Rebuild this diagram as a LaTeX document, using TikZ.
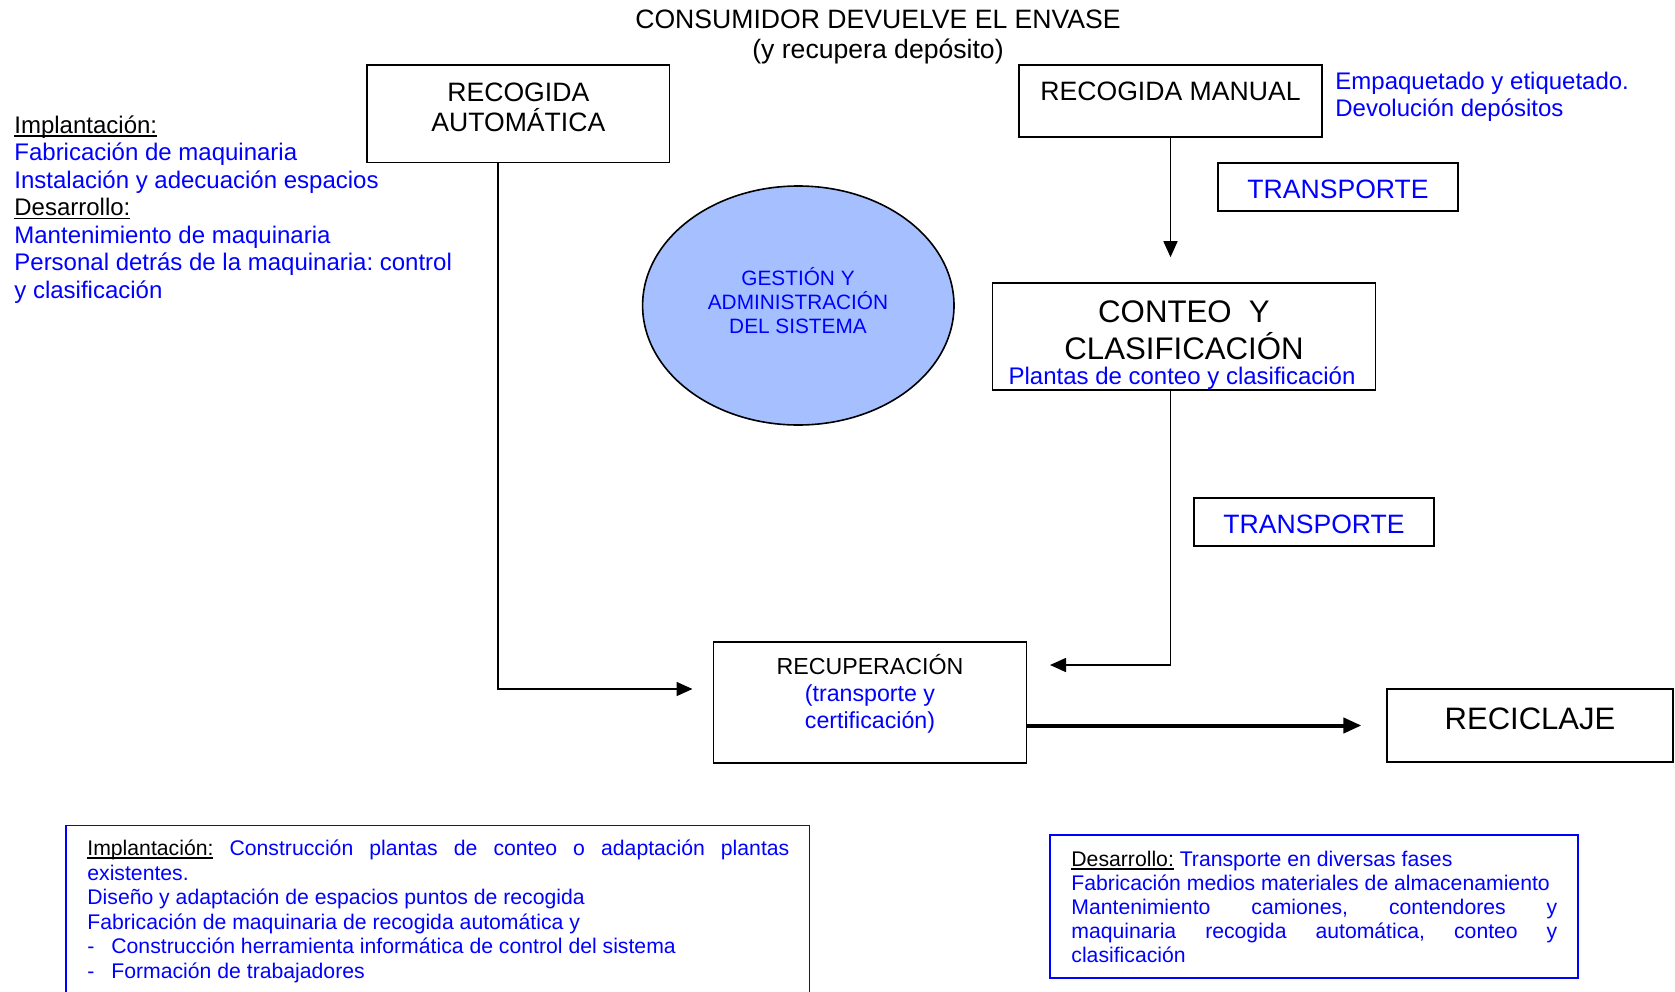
\documentclass[tikz,border=0pt]{standalone}
\usepackage{fontspec}
\setmainfont{Liberation Sans}
\usetikzlibrary{arrows.meta,shapes.geometric}
\definecolor{tblue}{RGB}{0,0,255}
\definecolor{ellfill}{RGB}{166,191,255}
\setlength{\parindent}{0pt}
\frenchspacing
\newcommand\fstrut[1]{\rule{0pt}{#1}}
\newcommand\myul[1]{\setbox0\hbox{#1}\rlap{\rule[-1.6pt]{\wd0}{0.6pt}}\box0}
\begin{document}
\begin{tikzpicture}[x=0.5pt,y=-0.5pt,
  box/.style={draw, line width=0.8pt, inner sep=0pt},
  bbox/.style={draw=tblue, line width=0.7pt, inner sep=0pt},
  conn/.style={line width=0.8pt, -{Triangle[length=8pt,width=7pt]}},
  thickconn/.style={line width=2pt, -{Triangle[length=9pt,width=7.5pt]}},
  txt/.style={inner sep=0pt, align=center},
  f13/.style={font=\fontsize{13.3}{15}\selectfont},
  f12/.style={font=\fontsize{12}{13.75}\selectfont},
]
\useasboundingbox (0,0) rectangle (1675,991);

% title
\node[txt, f13, anchor=north] (title) at (878,4.5)
  {\fstrut{12pt}CONSUMIDOR DEVUELVE EL ENVASE\\(y recupera depósito)};

% boxes
\node[box, minimum width=151.3pt, minimum height=48.65pt] (ra) at (518.3,113.7) {};
\node[txt, f13, anchor=north] (rat) at (518.3,76.7) {\fstrut{12pt}RECOGIDA\\AUTOMÁTICA};

\node[box, minimum width=151.5pt, minimum height=36pt] (rm) at (1170.5,101) {};
\node[txt, f13, anchor=base] (rmt) at (1170.5,100.7) {RECOGIDA MANUAL};

\node[txt, anchor=north west, align=left, text=tblue, font=\fontsize{12}{13.5}\selectfont] (emp) at (1335,65)
  {\fstrut{12pt}Empaquetado y etiquetado.\\Devolución depósitos};

\node[box, minimum width=120pt, minimum height=24pt] (t1) at (1338,187) {};
\node[txt, f13, anchor=base, text=tblue] (t1t) at (1338,198) {TRANSPORTE};

\node[box, minimum width=191.5pt, minimum height=53.5pt] (cc) at (1184,336.5) {};
\node[txt, anchor=base, font=\fontsize{15.6}{18}\selectfont] (cct1) at (1184,322) {CONTEO\ \ Y};
\node[txt, anchor=base, font=\fontsize{15.6}{18}\selectfont] (cct2) at (1184,359) {CLASIFICACIÓN};
\node[txt, f12, anchor=base, text=tblue] (cct3) at (1182,384) {Plantas de conteo y clasificación};

\node[box, minimum width=120pt, minimum height=24pt] (t2) at (1314,522) {};
\node[txt, f13, anchor=base, text=tblue] (t2t) at (1314,533) {TRANSPORTE};

\node[box, minimum width=156.5pt, minimum height=60.6pt] (rec) at (870,702.3) {};
\node[txt, anchor=north, font=\fontsize{11.6}{13.6}\selectfont] (rect) at (870,650)
  {\fstrut{12pt}RECUPERACIÓN\\\textcolor{tblue}{(transporte y}\\\textcolor{tblue}{certificación)}};

\node[box, minimum width=143.2pt, minimum height=36.5pt] (rc) at (1530,725.5) {};
\node[txt, anchor=base, font=\fontsize{15.5}{18}\selectfont] (rct) at (1530,729) {RECICLAJE};

% ellipse
\node[draw, line width=0.8pt, fill=ellfill, ellipse, inner sep=0pt,
      minimum width=155.7pt, minimum height=119.5pt] (ell) at (798.3,305.5) {};
\node[txt, anchor=north, text=tblue, font=\fontsize{10.4}{12}\selectfont] (ellt) at (798,264)
  {\fstrut{10.5pt}GESTIÓN Y\\ADMINISTRACIÓN\\DEL SISTEMA};

% left text block
\node[txt, f12, anchor=north west, align=left, text=tblue] (left) at (14,109)
  {\fstrut{12pt}\textcolor{black}{\myul{Implantación:}}\\
   Fabricación de maquinaria\\
   Instalación y adecuación espacios\\
   \textcolor{black}{\myul{Desarrollo:}}\\
   Mantenimiento de maquinaria\\
   Personal detrás de la maquinaria: control\\
   y clasificación};

% connectors
\coordinate (recL) at (692.5,689);
\coordinate (recR) at (1050,665);
\draw[conn] ([xshift=-10.05pt]ra.south) |- (recL);
\draw[conn, shorten >=12.5pt] (rm.south) -- (rm.south |- cc.north);
\draw[conn] (rm.south |- cc.south) |- (recR);
\draw[thickconn, shorten >=12.3pt] (rec.east |- rc.west) -- (rc.west);

% bottom left box (cut by the page edge)
\coordinate (blA) at (66,1000);
\coordinate (blB) at (66,825.7);
\coordinate (blC) at (809.7,825.7);
\coordinate (blD) at (809.7,1000);
\draw[draw=tblue, line width=0.7pt] (blA) -- (blB) -- (blC) -- (blD);
\node[inner sep=0pt, anchor=north west, text width=351pt, align=justify, text=tblue,
      font=\fontsize{10.6}{12.3}\selectfont] (blt) at (87,833)
  {\fstrut{11pt}\textcolor{black}{\myul{Implantación:}} Construcción plantas de conteo o adaptación plantas\linebreak existentes.\\
   Diseño y adaptación de espacios puntos de recogida\\
   Fabricación de maquinaria de recogida automática y\\
   \makebox[12pt][l]{-}Construcción herramienta informática de control del sistema\\
   \makebox[12pt][l]{-}Formación de trabajadores};

% bottom right box
\node[bbox, minimum width=264pt, minimum height=71.5pt] (br) at (1314,906.5) {};
\node[inner sep=0pt, anchor=north west, text width=243pt, align=justify, text=tblue,
      font=\fontsize{10.6}{12}\selectfont] (brt) at (1071,844)
  {\fstrut{11pt}\textcolor{black}{\myul{Desarrollo:}} Transporte en diversas fases\\
   Fabricación medios materiales de almacenamiento\\
   Mantenimiento camiones, contendores y\linebreak maquinaria recogida automática, conteo y\linebreak clasificación};
\end{tikzpicture}
\end{document}
